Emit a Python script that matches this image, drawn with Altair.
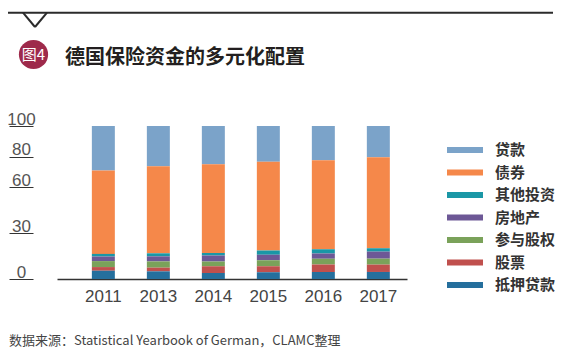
import altair as alt
import pandas as pd

years = ["2011", "2013", "2014", "2015", "2016", "2017"]
categories = ["贷款", "债券", "其他投资", "房地产", "参与股权", "股票", "抵押贷款"]
colors = ["#7BA3C9", "#F5884A", "#1A97A6", "#6D5896", "#7AA25A", "#C0504D", "#256F9D"]

loans = [29.1, 26.3, 25.0, 23.3, 22.4, 20.4]
bonds = [54.5, 56.9, 58.0, 58.0, 58.2, 59.5]
other = [1.7, 2.0, 1.7, 2.8, 2.8, 2.2]
real_estate = [3.0, 3.3, 3.9, 3.7, 3.3, 4.6]
equity_part = [3.9, 4.1, 3.1, 3.9, 3.9, 3.9]
stocks = [2.4, 2.4, 4.4, 3.9, 4.8, 4.8]
mortgage = [5.4, 5.0, 3.9, 4.4, 4.6, 4.6]

y_ticks = [0, 30, 60, 80, 100]

title_text = "德国保险资金的多元化配置"
badge_text = "图4"
source_text = "数据来源：Statistical Yearbook of German，CLAMC整理"

series = [loans, bonds, other, real_estate, equity_part, stocks, mortgage]
rows = []
for ci, (cat, vals) in enumerate(zip(categories, series)):
    for y, v in zip(years, vals):
        rows.append({"year": y, "cat": cat, "value": v, "ord": len(categories) - 1 - ci})
df = pd.DataFrame(rows)

bars = alt.Chart(df).mark_bar().encode(
    x=alt.X("year:N", sort=years,
            scale=alt.Scale(paddingInner=0.582, paddingOuter=0.473, align=0.67),
            axis=alt.Axis(title=None, domain=True, domainColor="#333", domainWidth=1.5,
                          ticks=False, labelAngle=0, labelFontSize=17, labelColor="#444",
                          labelFont="Liberation Sans", labelPadding=9)),
    y=alt.Y("value:Q", stack="zero", scale=alt.Scale(domain=[0, 100], nice=False),
            axis=alt.Axis(title=None, values=y_ticks, domain=False, grid=False,
                          ticks=True, tickSize=24, tickColor="#333", offset=24,
                          labelAlign="center", labelBaseline="alphabetic",
                          labelPadding=-12, labelOffset=-2, labelFontSize=17,
                          labelColor="#555", labelFont="Liberation Sans")),
    color=alt.Color("cat:N", scale=alt.Scale(domain=categories, range=colors),
                    legend=alt.Legend(orient="none", legendX=390, legendY=16, title=None,
                                      symbolType="M-1,-0.17L1,-0.17L1,0.17L-1,0.17Z",
                                      symbolSize=1296, symbolStrokeWidth=0,
                                      clipHeight=16, rowPadding=6.5, labelOffset=12,
                                      labelFontSize=15, labelFont="Noto Sans CJK SC",
                                      labelFontWeight="bold", labelColor="#333", padding=0)),
    order=alt.Order("ord:Q", sort="ascending"),
)

one = pd.DataFrame({"a": [0]})
base = alt.Chart(one)

top_line = base.mark_rule(color="#2b2b2b", strokeWidth=2).encode(
    x=alt.value(-49), x2=alt.value(496), y=alt.value(-113.3))
v_left = base.mark_rule(color="#2b2b2b", strokeWidth=2).encode(
    x=alt.value(-34), x2=alt.value(-22), y=alt.value(-113.3), y2=alt.value(-99))
v_right = base.mark_rule(color="#2b2b2b", strokeWidth=2).encode(
    x=alt.value(-22), x2=alt.value(-10), y=alt.value(-99), y2=alt.value(-113.3))
badge = base.mark_circle(color="#9E2A4B", opacity=1).encode(
    x=alt.value(-23.5), y=alt.value(-71.5), size=alt.value(855))
badge_t = base.mark_text(color="white", fontSize=15, font="Noto Sans CJK SC",
                         align="center", baseline="middle").encode(
    x=alt.value(-23.5), y=alt.value(-71), text=alt.value(badge_text))
title = base.mark_text(color="#231F20", fontSize=20, font="Noto Sans CJK SC",
                       fontWeight="bold", align="left", baseline="middle").encode(
    x=alt.value(8), y=alt.value(-68), text=alt.value(title_text))
source = base.mark_text(color="#444", fontSize=13, font="Noto Sans CJK SC",
                        align="left", baseline="middle").encode(
    x=alt.value(-48), y=alt.value(215), text=alt.value(source_text))

chart = alt.layer(bars, top_line, v_left, v_right, badge, badge_t, title, source).properties(
    width=350, height=153, autosize="none",
    padding={"left": 49, "top": 118, "right": 148, "bottom": 72},
).configure_view(stroke=None)

chart.save("out.html", embed_options={"renderer": "svg", "actions": False})
